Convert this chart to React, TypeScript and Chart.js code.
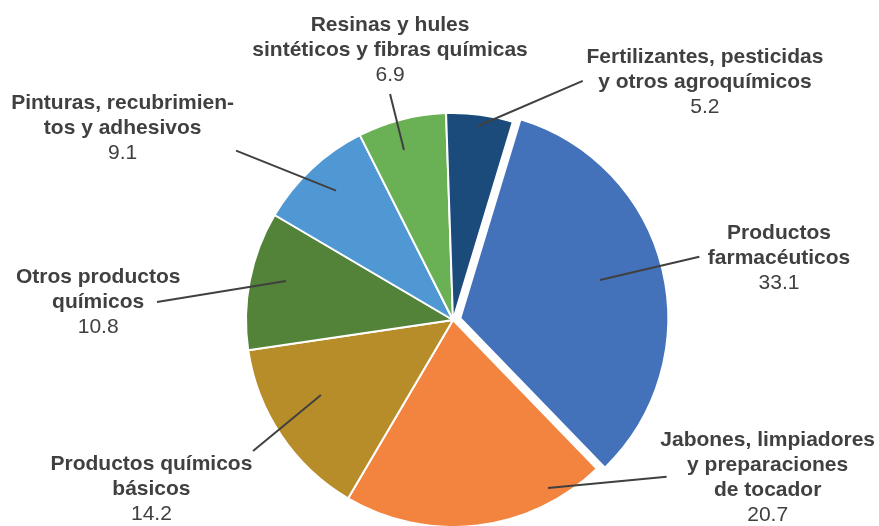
import React, { useEffect, useRef } from "react";
import { Chart, registerables } from "chart.js";

Chart.register(...registerables);

const categories: string[][] = [
  ["Productos", "farmacéuticos"],
  ["Jabones, limpiadores", "y preparaciones", "de tocador"],
  ["Productos químicos", "básicos"],
  ["Otros productos", "químicos"],
  ["Pinturas, recubrimien-", "tos y adhesivos"],
  ["Resinas y hules", "sintéticos y fibras químicas"],
  ["Fertilizantes, pesticidas", "y otros agroquímicos"],
];

const values: number[] = [33.1, 20.7, 14.2, 10.8, 9.1, 6.9, 5.2];

const colors: string[] = [
  "#4472BA",
  "#F2843F",
  "#B78D29",
  "#538239",
  "#5098D3",
  "#6AB055",
  "#1B4B7B",
];

const explode: number[] = [30, 0, 0, 0, 0, 0, 0];

// Label layout in units of the pie radius, relative to the pie centre:
// text = centre x / first baseline of the label block, from/to = leader line ends
const labelLayout = [
  { text: [1.575, -0.39], from: [1.19, -0.306], to: [0.71, -0.193] },
  { text: [1.52, 0.609], from: [1.032, 0.757], to: [0.459, 0.812] },
  { text: [-1.457, 0.725], from: [-0.966, 0.633], to: [-0.638, 0.362] },
  { text: [-1.714, -0.177], from: [-1.43, -0.087], to: [-0.807, -0.188] },
  { text: [-1.596, -1.018], from: [-1.048, -0.818], to: [-0.565, -0.625] },
  { text: [-0.304, -1.398], from: [-0.304, -1.092], to: [-0.237, -0.821] },
  { text: [1.217, -1.243], from: [0.627, -1.155], to: [0.121, -0.937] },
];

const TEXT_COLOR = "#404040";
const FONT_FAMILY = '"Liberation Sans", Arial, sans-serif';
const FONT_SIZE = 21;
const LINE_HEIGHT = 25;

const labelPlugin = {
  id: "pieLabels",
  afterDatasetsDraw(chart: any) {
    const meta = chart.getDatasetMeta(0);
    const ctx = chart.ctx as CanvasRenderingContext2D;
    ctx.save();
    meta.data.forEach((arc: any, i: number) => {
      const lay = labelLayout[i];
      if (!lay) return;
      const cx = arc.x;
      const cy = arc.y;
      const R = arc.outerRadius;
      // leader line
      ctx.beginPath();
      ctx.strokeStyle = TEXT_COLOR;
      ctx.lineWidth = 2;
      ctx.moveTo(cx + lay.from[0] * R, cy + lay.from[1] * R);
      ctx.lineTo(cx + lay.to[0] * R, cy + lay.to[1] * R);
      ctx.stroke();
      // text
      const tx = cx + lay.text[0] * R;
      let ty = cy + lay.text[1] * R;
      ctx.fillStyle = TEXT_COLOR;
      ctx.textAlign = "center";
      ctx.textBaseline = "alphabetic";
      ctx.font = `bold ${FONT_SIZE}px ${FONT_FAMILY}`;
      categories[i].forEach((line) => {
        ctx.fillText(line, tx, ty);
        ty += LINE_HEIGHT;
      });
      ctx.font = `${FONT_SIZE}px ${FONT_FAMILY}`;
      ctx.fillText(values[i].toFixed(1), tx, ty);
    });
    ctx.restore();
  },
};

export default function App() {
  const canvasRef = useRef<HTMLCanvasElement | null>(null);

  useEffect(() => {
    if (!canvasRef.current) return;
    const chart = new Chart(canvasRef.current, {
      type: "pie",
      data: {
        labels: categories.map((c) => c.join(" ")),
        datasets: [
          {
            data: values,
            backgroundColor: colors,
            borderColor: "#ffffff",
            borderWidth: 2,
            offset: explode,
            hoverOffset: 0,
          },
        ],
      },
      options: {
        responsive: false,
        animation: false,
        rotation: 16.8,
        radius: 207,
        layout: { padding: { left: 27, right: 0, top: 114, bottom: 0 } },
        plugins: {
          legend: { display: false },
          tooltip: { enabled: false },
        },
      } as any,
      plugins: [labelPlugin],
    });
    return () => chart.destroy();
  }, []);

  return (
    <div style={{ position: "fixed", left: 0, top: 0, width: 879, height: 526, background: "#fff" }}>
      <canvas ref={canvasRef} width={879} height={526} style={{ width: 879, height: 526 }} />
    </div>
  );
}
